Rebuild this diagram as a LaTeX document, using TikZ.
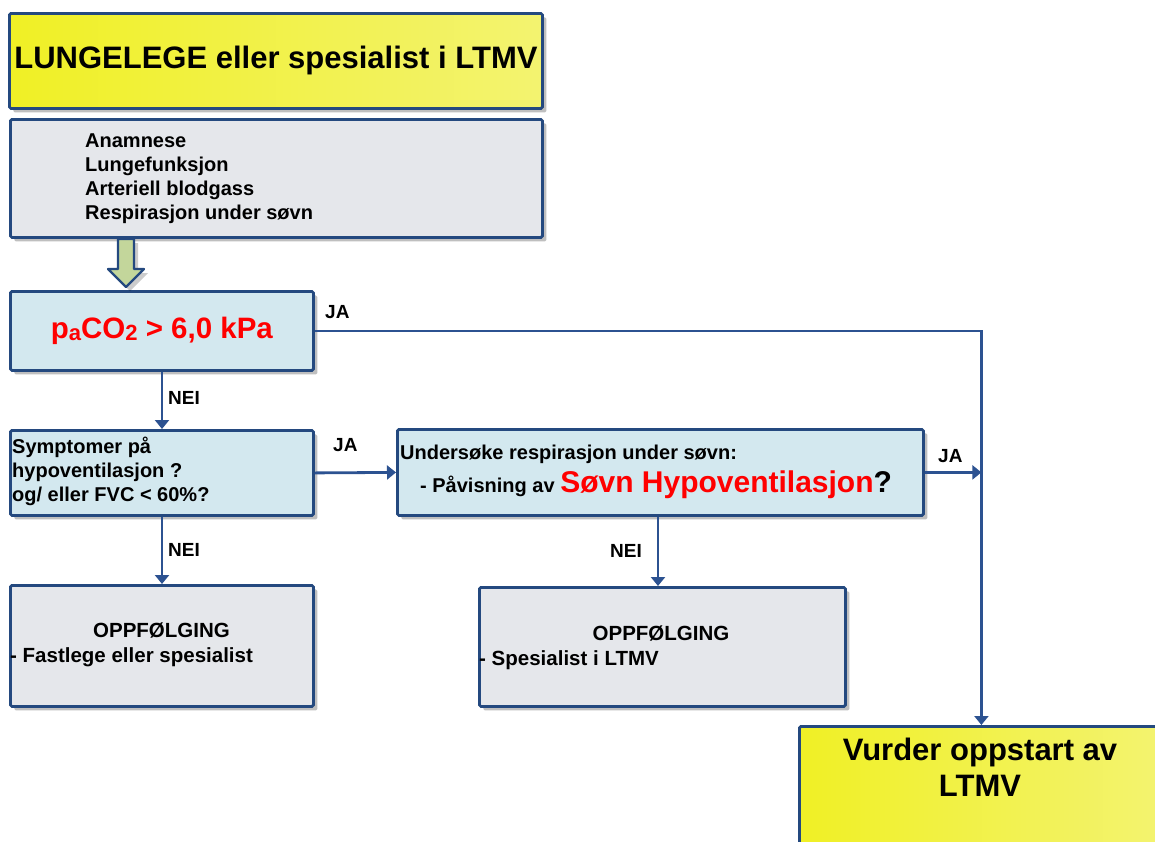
\documentclass[tikz,border=0pt]{standalone}
\usepackage{fontspec}
\setmainfont{Liberation Sans}
\usetikzlibrary{shadows,arrows.meta}
\definecolor{bord}{HTML}{24497F}
\definecolor{conn}{HTML}{2C5291}
\definecolor{ylwA}{HTML}{F0F025}
\definecolor{ylwB}{HTML}{F3F370}
\definecolor{grayf}{HTML}{E5E7EB}
\definecolor{bluef}{HTML}{D3E8EF}
\definecolor{arrf}{HTML}{C3D69B}
\definecolor{redt}{HTML}{FF0000}
\newcommand\fsz[2]{\fontsize{#1}{#2}\selectfont}
\newcommand\mysub[1]{\raisebox{-1.5pt}{\fsz{22}{24}#1}}
\tikzset{
  box/.style={draw=bord, line width=2.8pt, rounded corners=1.5pt, anchor=north west, inner sep=0pt,
    drop shadow={shadow xshift=4pt, shadow yshift=-4pt, fill=black, opacity=0.25}},
  ybox/.style={box, left color=ylwA, right color=ylwB},
  gbox/.style={box, fill=grayf},
  bbox/.style={box, fill=bluef},
  conline/.style={draw=conn, line width=2.8pt},
  conarrow/.style={conline, -{Triangle[width=14pt,length=9pt]}},
  lbl/.style={anchor=base west, inner sep=0pt, font=\fsz{19}{22}\bfseries},
  txt/.style={anchor=north west, inner sep=0pt, align=left, font=\fsz{20}{24}\bfseries},
  txtb/.style={inner sep=0pt, font=\fsz{20.5}{24}\bfseries},
}
\begin{document}
\begin{tikzpicture}[x=1pt,y=-1pt]
\useasboundingbox (0,0) rectangle (1155,841);
% boxes
\node[ybox, minimum width=533pt, minimum height=95pt] (title) at (8,12)
  {\fsz{31}{36}\bfseries LUNGELEGE eller spesialist i LTMV\hspace{6pt}};
\node[gbox, minimum width=532pt, minimum height=118pt] (info) at (9,118) {};
\node[bbox, minimum width=303pt, minimum height=79pt] (paco) at (9,290)
  {\color{redt}\fsz{29.5}{32}\bfseries p\mysub{a}CO\mysub{2} > 6,0 kPa};
\node[bbox, minimum width=303pt, minimum height=85pt] (symp) at (9,429) {};
\node[bbox, minimum width=526pt, minimum height=86pt] (und) at (396,428) {};
\node[gbox, minimum width=303pt, minimum height=121pt] (opp1) at (9,584) {};
\node[gbox, minimum width=366pt, minimum height=119pt] (opp2) at (478,586) {};
\node[ybox, minimum width=364pt, minimum height=140pt] (vurd) at (798,725) {};
% block arrow
\draw[fill=arrf, draw=bord, line width=2.2pt, line join=round,
  drop shadow={shadow xshift=4pt, shadow yshift=-4pt, fill=black, opacity=0.2}]
  (118,239) -- (118,269) -- (108,269) -- (126,287) -- (144,269) -- (134,269) -- (134,239) -- cycle;
% texts
\node[txt] (infot) at (85,133.5) {Anamnese\\Lungefunksjon\\Arteriell blodgass\\Respirasjon under søvn};
\node[txt] (sympt) at (12,436.5) {Symptomer på\\hypoventilasjon ?\\og/ eller FVC < 60\%?};
\node[anchor=base west, inner sep=0pt, font=\fsz{20}{24}\bfseries] (undt1) at (400,459) {Undersøke respirasjon under søvn:};
\node[anchor=base west, inner sep=0pt, font=\fsz{20}{24}\bfseries] (undt2) at (420,492)
  {- Påvisning av {\fsz{30}{34}\textcolor{redt}{Søvn Hypoventilasjon}?}};
\node[txtb, anchor=base] (opp1a) at (161.5,637) {OPPFØLGING};
\node[txtb, anchor=base west] (opp1b) at (10,662) {- Fastlege eller spesialist};
\node[txtb, anchor=base] (opp2a) at (661,640) {OPPFØLGING};
\node[txtb, anchor=base west] (opp2b) at (479,665) {- Spesialist i LTMV};
\node[anchor=north, inner sep=0pt, align=center, font=\fsz{31}{36}\bfseries] (vurdt) at (980,737.5) {Vurder oppstart av\\LTMV};
% connectors
\coordinate (jn) at (und.east -| vurd.north);
\draw[conarrow] (paco.east) -| (vurd.north);
\draw[conarrow] (paco.south -| 162,0) -- (symp.north -| 162,0);
\draw[conarrow] (symp.east) -- (und.west);
\draw[conarrow] (und.east) -- (jn);
\draw[conarrow] (symp.south -| 162,0) -- (opp1.north -| 162,0);
\draw[conarrow] (und.south -| 658,0) -- (opp2.north -| 658,0);
% labels
\node[lbl] (ja1) at (325,318) {JA};
\node[lbl] (nei1) at (168,404) {NEI};
\node[lbl] (ja2) at (333,451) {JA};
\node[lbl] (ja3) at (938,462) {JA};
\node[lbl] (nei2) at (168,556) {NEI};
\node[lbl] (nei3) at (610,557) {NEI};
\end{tikzpicture}
\end{document}
